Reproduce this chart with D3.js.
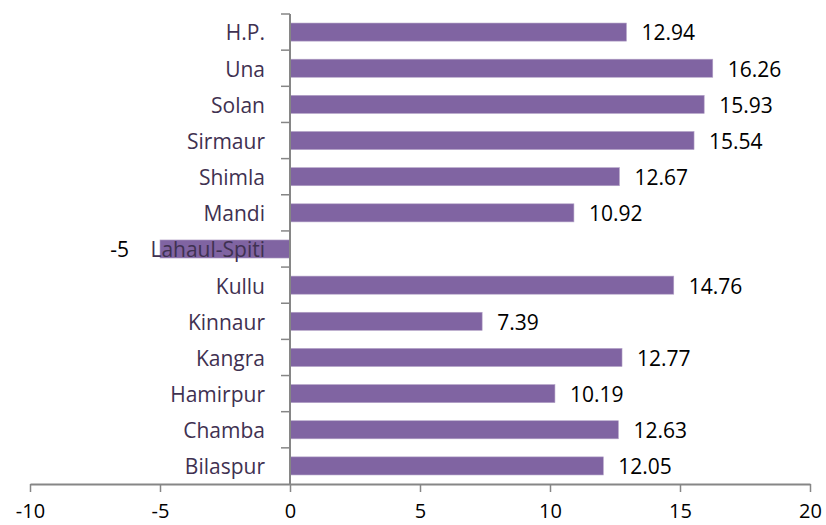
<!DOCTYPE html>
<html>
<head>
<meta charset="utf-8">
<script src="https://cdn.jsdelivr.net/npm/d3@7"></script>
<style>
  body { margin: 0; background: #fff; }
  svg { display: block; font-family: "Open Sans", Lato, sans-serif; }
</style>
</head>
<body>
<div id="chart"></div>
<script>
// districts, top to bottom as drawn
const districts = ["H.P.", "Una", "Solan", "Sirmaur", "Shimla", "Mandi", "Lahaul-Spiti",
  "Kullu", "Kinnaur", "Kangra", "Hamirpur", "Chamba", "Bilaspur"];
const values = [12.94, 16.26, 15.93, 15.54, 12.67, 10.92, -5, 14.76, 7.39, 12.77, 10.19, 12.63, 12.05];
const xTicks = [-10, -5, 0, 5, 10, 15, 20];

const width = 826, height = 525;
const margin = {top: 14, right: 16, bottom: 41, left: 30};
const fontFam = "'Open Sans', Lato, sans-serif";

const svg = d3.select("#chart").append("svg")
  .attr("width", width)
  .attr("height", height);

const x = d3.scaleLinear()
  .domain([-10, 20])
  .range([margin.left, width - margin.right]);

const y = d3.scaleBand()
  .domain(districts)
  .range([margin.top, height - margin.bottom])
  .paddingInner(0.5)
  .paddingOuter(0.25);

const rows = districts.map((d, i) => ({name: d, value: values[i]}));

// bars
svg.selectAll("rect.bar")
  .data(rows)
  .join("rect")
    .attr("class", "bar")
    .attr("x", d => x(Math.min(0, d.value)))
    .attr("y", d => y(d.name))
    .attr("width", d => Math.abs(x(d.value) - x(0)))
    .attr("height", y.bandwidth())
    .attr("fill", "#8064a2")
    .attr("stroke", "#b3a2c7")
    .attr("stroke-width", 0.6);

// value labels
svg.selectAll("text.val")
  .data(rows)
  .join("text")
    .attr("class", "val")
    .attr("x", d => d.value >= 0 ? x(d.value) + 15 : x(d.value) - 31)
    .attr("y", d => y(d.name) + y.bandwidth() / 2 + 1)
    .attr("dy", "0.35em")
    .attr("text-anchor", d => d.value >= 0 ? "start" : "end")
    .attr("font-size", "21px")
    .attr("fill", "#000")
    .text(d => d.value);

// y axis (at zero)
const yAxis = svg.append("g")
  .attr("transform", `translate(${x(0)},0)`);
yAxis.append("line")
  .attr("x1", 0).attr("x2", 0)
  .attr("y1", margin.top).attr("y2", height - margin.bottom)
  .attr("stroke", "#868686").attr("stroke-width", 2);
const step = y.step();
d3.range(districts.length).forEach(i => {
  const yy = margin.top + i * step;
  yAxis.append("line")
    .attr("x1", -9).attr("x2", 0)
    .attr("y1", yy).attr("y2", yy)
    .attr("stroke", "#868686").attr("stroke-width", 1.5);
});

// category labels
svg.selectAll("text.cat")
  .data(rows)
  .join("text")
    .attr("class", "cat")
    .attr("x", 265)
    .attr("y", d => y(d.name) + y.bandwidth() / 2 + 1)
    .attr("dy", "0.35em")
    .attr("text-anchor", "end")
    .attr("font-size", "21px")
    .attr("fill", "#3f3151")
    .text(d => d.name);

// x axis
const xAxis = svg.append("g")
  .attr("transform", `translate(0,${height - margin.bottom})`)
  .call(d3.axisBottom(x).tickValues(xTicks).tickFormat(d => String(d))
    .tickSize(8).tickPadding(12).tickSizeOuter(0));
xAxis.select(".domain").attr("stroke", "#868686").attr("stroke-width", 2);
xAxis.selectAll(".tick line").attr("stroke", "#868686").attr("stroke-width", 1.5);
xAxis.selectAll(".tick text")
  .attr("font-size", "20px")
  .attr("font-family", fontFam)
  .attr("fill", "#000");
</script>
</body>
</html>
